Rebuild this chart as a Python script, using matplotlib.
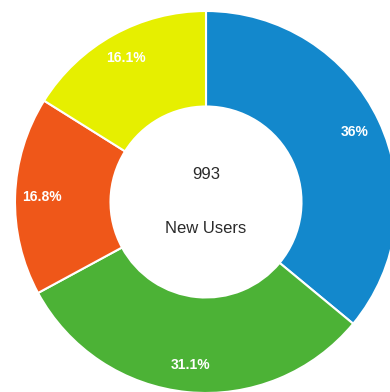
import matplotlib
matplotlib.use("Agg")
import matplotlib.pyplot as plt

# New-user share by segment, clockwise from 12 o'clock
segments = ["Blue", "Green", "Orange", "Yellow"]
shares = [36.0, 31.1, 16.8, 16.1]
colors = ["#1388cc", "#4cb236", "#ef5719", "#e6ef00"]
total_new_users = 993
center_caption = "New Users"

W, H = 390, 392
fig = plt.figure(figsize=(W / 100, H / 100), dpi=100)
ax = fig.add_axes([0, 0, 1, 1])

cx, cy = 206, H - 202
outer_r = 191
ring_w = outer_r * 0.50

wedges, texts, autotexts = ax.pie(
    shares,
    colors=colors,
    startangle=90,
    counterclock=False,
    center=(cx, cy),
    radius=outer_r,
    autopct=lambda p: f"{p:.3g}%",
    pctdistance=0.86,
    wedgeprops=dict(width=ring_w, edgecolor="white", linewidth=1.5),
    textprops=dict(color="white", fontsize=10, fontweight="bold",
                   family="Liberation Sans"),
    frame=True,
)
ax.set_xlim(0, W)
ax.set_ylim(0, H)
ax.set_aspect("equal")
ax.axis("off")

ax.text(cx, H - 174, f"{total_new_users}", ha="center", va="center",
        fontsize=12, color="#2a2a2a", family="Liberation Sans")
ax.text(cx, H - 228, center_caption, ha="center", va="center",
        fontsize=12, color="#2a2a2a", family="Liberation Sans")

fig.savefig("out.png", dpi=100)
